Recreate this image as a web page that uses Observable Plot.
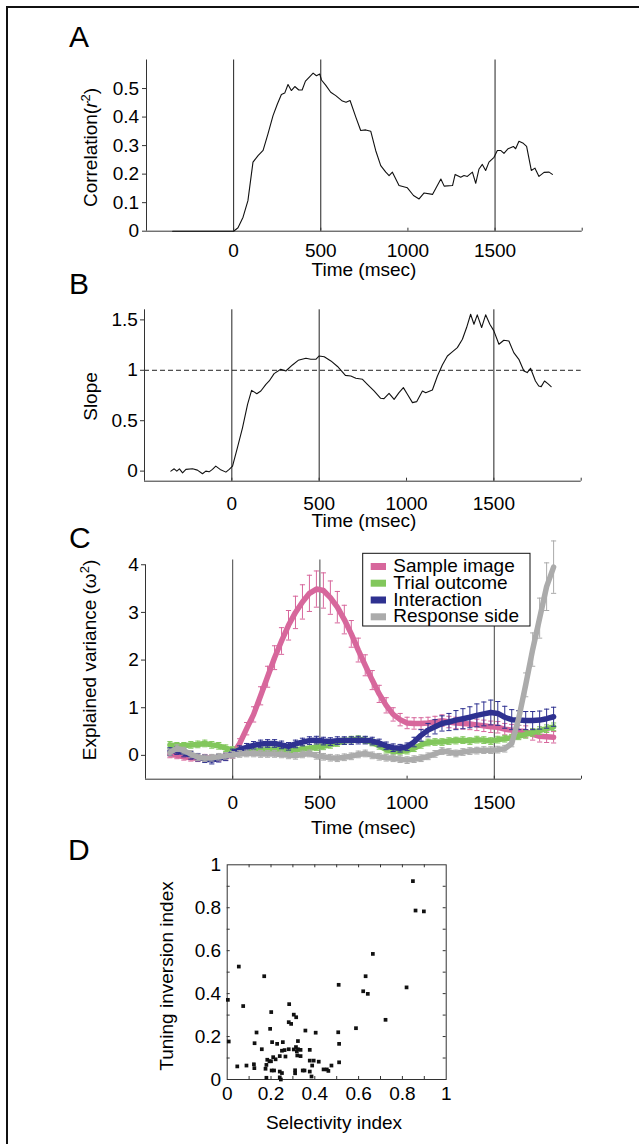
<!DOCTYPE html>
<html><head><meta charset="utf-8">
<script src="https://cdn.jsdelivr.net/npm/d3@7"></script>
<script src="https://cdn.jsdelivr.net/npm/@observablehq/plot@0.6"></script>
<style>
body{margin:0;background:#fff;}
#fig{position:relative;width:639px;height:1144px;overflow:hidden;background:#fff;font-family:"Liberation Sans",Arial,sans-serif;}
#fig svg{position:absolute;left:0;}
</style></head><body><div id="fig"></div>
<script>
// ---------- Panel A: correlation r^2 over time ----------
const timeA = [-350,-250,-150,-50,0,25,54,82,111,140,169,197,226,251,274,293,312,331,351,374,393,412,437,456,475,494,504,529,557,586,624,645,668,701,729,758,787,815,844,873,892,911,949,997,1032,1064,1093,1141,1189,1208,1256,1271,1303,1322,1341,1370,1389,1408,1427,1446,1465,1494,1513,1532,1551,1575,1605,1618,1637,1662,1681,1708,1729,1752,1781,1810,1829];
const corrA = [0,0,0,0,0,0.012,0.049,0.107,0.242,0.265,0.283,0.341,0.405,0.446,0.479,0.484,0.514,0.493,0.507,0.495,0.495,0.526,0.542,0.554,0.545,0.551,0.530,0.511,0.487,0.475,0.456,0.452,0.458,0.400,0.353,0.355,0.350,0.283,0.230,0.207,0.195,0.207,0.160,0.152,0.125,0.113,0.134,0.129,0.183,0.158,0.160,0.199,0.189,0.195,0.192,0.207,0.168,0.218,0.234,0.213,0.242,0.259,0.283,0.283,0.273,0.289,0.297,0.289,0.315,0.308,0.297,0.213,0.221,0.192,0.206,0.207,0.199];

// ---------- Panel B: slope over time ----------
const timeB = [-349,-330,-315,-300,-282,-263,-225,-197,-168,-149,-130,-111,-92,-67,-34,-15,4,32,61,90,113,143,166,195,214,242,280,309,347,380,424,452,481,500,529,567,605,650,681,710,748,776,814,852,871,900,929,957,982,1005,1034,1058,1091,1110,1148,1177,1205,1234,1262,1291,1320,1344,1367,1386,1405,1430,1453,1477,1500,1529,1557,1586,1614,1643,1672,1691,1710,1738,1757,1771,1790,1809,1828];
const slopeB = [0,0.023,0,0.023,-0.017,0.017,0.023,0.01,-0.026,0,-0.007,0.017,0.05,0.017,-0.01,0.017,0.05,0.232,0.43,0.662,0.801,0.768,0.795,0.861,0.894,0.967,1.01,0.993,1.053,1.099,1.119,1.109,1.109,1.142,1.134,1.093,1.038,0.95,0.944,0.921,0.911,0.861,0.795,0.722,0.719,0.772,0.712,0.778,0.828,0.762,0.679,0.689,0.795,0.778,0.805,0.944,1.053,1.142,1.182,1.225,1.308,1.424,1.556,1.457,1.55,1.424,1.55,1.457,1.391,1.258,1.298,1.291,1.175,1.109,0.993,0.977,1.02,0.894,0.844,0.838,0.894,0.868,0.838];

// ---------- Panel C: explained variance (omega^2) ----------
const timeC = [-360,-320,-280,-240,-200,-160,-120,-80,-40,0,40,80,120,160,200,240,280,320,360,400,440,480,520,560,600,640,680,720,760,800,840,880,920,960,1000,1040,1080,1120,1160,1200,1240,1280,1320,1360,1400,1440,1480,1520,1560,1600,1640,1680,1720,1760,1800,1840];
const sampleImage = [0.02,0,-0.03,-0.05,-0.06,-0.05,-0.06,-0.05,-0.03,0.02,0.25,0.56,0.86,1.25,1.65,2.05,2.4,2.73,3.0,3.22,3.4,3.49,3.46,3.31,3.11,2.85,2.55,2.21,1.89,1.58,1.29,1.05,0.86,0.75,0.68,0.67,0.67,0.68,0.7,0.73,0.7,0.68,0.67,0.66,0.64,0.62,0.6,0.59,0.55,0.53,0.51,0.5,0.44,0.4,0.39,0.38];
const sampleImageErr = [0.07,0.07,0.07,0.07,0.07,0.07,0.07,0.07,0.07,0.08,0.1,0.13,0.16,0.19,0.22,0.25,0.28,0.31,0.34,0.36,0.38,0.38,0.37,0.35,0.33,0.3,0.28,0.25,0.22,0.2,0.18,0.16,0.14,0.13,0.12,0.12,0.12,0.12,0.12,0.12,0.12,0.12,0.12,0.12,0.12,0.12,0.12,0.12,0.12,0.12,0.12,0.12,0.12,0.12,0.12,0.12];
const trialOutcome = [0.22,0.2,0.2,0.22,0.23,0.25,0.22,0.2,0.15,0.11,0.09,0.08,0.1,0.11,0.12,0.13,0.12,0.11,0.11,0.14,0.15,0.17,0.19,0.22,0.26,0.3,0.33,0.34,0.32,0.27,0.2,0.12,0.08,0.08,0.1,0.15,0.22,0.27,0.28,0.28,0.3,0.31,0.32,0.3,0.33,0.32,0.3,0.33,0.35,0.37,0.4,0.44,0.48,0.52,0.56,0.6];
const trialOutcomeErr = [0.07,0.07,0.07,0.07,0.07,0.07,0.07,0.07,0.07,0.07,0.07,0.07,0.07,0.07,0.07,0.07,0.07,0.07,0.07,0.07,0.07,0.07,0.07,0.07,0.07,0.07,0.07,0.07,0.07,0.07,0.07,0.07,0.07,0.07,0.07,0.07,0.07,0.07,0.07,0.07,0.07,0.07,0.07,0.07,0.07,0.07,0.07,0.07,0.07,0.07,0.07,0.08,0.08,0.08,0.08,0.08];
const interaction = [0.08,0.1,0.05,0,-0.04,-0.07,-0.1,-0.06,-0.03,0.05,0.12,0.17,0.21,0.24,0.25,0.25,0.22,0.19,0.24,0.28,0.31,0.32,0.3,0.29,0.31,0.31,0.31,0.32,0.32,0.3,0.26,0.2,0.16,0.15,0.18,0.28,0.42,0.53,0.6,0.67,0.7,0.74,0.77,0.8,0.84,0.87,0.9,0.88,0.8,0.75,0.74,0.73,0.73,0.74,0.77,0.81];
const interactionErr = [0.08,0.08,0.08,0.08,0.08,0.08,0.08,0.08,0.08,0.08,0.08,0.08,0.08,0.08,0.08,0.08,0.08,0.08,0.08,0.08,0.08,0.08,0.08,0.08,0.08,0.08,0.08,0.08,0.08,0.08,0.08,0.08,0.08,0.08,0.08,0.1,0.12,0.14,0.15,0.16,0.18,0.2,0.21,0.22,0.24,0.25,0.26,0.25,0.23,0.21,0.2,0.19,0.19,0.19,0.2,0.2];
const responseSide = [0.06,0.15,0.1,0.03,-0.04,-0.06,-0.05,-0.03,-0.01,0.01,0.03,0.04,0.04,0.03,0.03,0.03,0.02,0,-0.01,0.02,0.04,-0.01,-0.03,-0.05,-0.06,-0.04,-0.02,0.02,0.04,0,-0.03,-0.05,-0.06,-0.08,-0.1,-0.08,-0.06,-0.02,0.03,0.09,0.07,0.04,0.07,0.09,0.1,0.11,0.11,0.12,0.14,0.25,0.78,1.48,2.22,2.88,3.54,3.95];
const responseSideErr = [0.07,0.07,0.07,0.07,0.07,0.07,0.07,0.07,0.07,0.07,0.07,0.07,0.07,0.07,0.07,0.07,0.07,0.07,0.07,0.07,0.07,0.07,0.07,0.07,0.07,0.07,0.07,0.07,0.07,0.07,0.07,0.07,0.07,0.07,0.07,0.07,0.07,0.07,0.07,0.07,0.07,0.07,0.07,0.07,0.07,0.07,0.07,0.07,0.07,0.07,0.15,0.25,0.35,0.42,0.5,0.55];
const seriesNames = ["Sample image","Trial outcome","Interaction","Response side"];
const seriesColors = ["#d7679c","#82c75c","#2e3190","#ababab"];

// ---------- Panel D: scatter ----------
const selectivity = [0.848,0.860,0.898,0.665,0.632,0.621,0.642,0.819,0.723,0.588,0.509,0.507,0.511,0.511,0.053,0.169,0.003,0.073,0.007,0.046,0.088,0.122,0.124,0.125,0.134,0.158,0.201,0.196,0.283,0.281,0.292,0.304,0.315,0.357,0.404,0.205,0.228,0.254,0.323,0.183,0.193,0.200,0.221,0.210,0.240,0.266,0.250,0.262,0.281,0.304,0.314,0.323,0.318,0.335,0.377,0.320,0.335,0.377,0.395,0.418,0.179,0.175,0.203,0.214,0.240,0.250,0.310,0.310,0.345,0.353,0.377,0.385,0.388,0.440,0.455,0.462,0.476,0.179,0.240,0.245];
const tuningInversion = [0.924,0.787,0.783,0.585,0.481,0.411,0.399,0.429,0.278,0.239,0.441,0.220,0.166,0.080,0.526,0.481,0.371,0.342,0.177,0.061,0.065,0.071,0.053,0.169,0.219,0.141,0.314,0.236,0.351,0.267,0.259,0.302,0.290,0.228,0.218,0.174,0.166,0.174,0.179,0.092,0.085,0.085,0.094,0.104,0.109,0.107,0.134,0.137,0.141,0.140,0.151,0.141,0.131,0.138,0.138,0.112,0.109,0.088,0.088,0.083,0.068,0.050,0.042,0.042,0.037,0.030,0.043,0.029,0.042,0.042,0.037,0.014,0.065,0.047,0.047,0.040,0.065,0.008,0.010,0.000];

// ---------- ticks ----------
const eventTimes = [0, 500, 1500];
const xTickLabels = [0, 500, 1000, 1500];
const xTickMarks = [0, 500, 1000, 1500, 2000];
const yTicksA = [0, 0.1, 0.2, 0.3, 0.4, 0.5];
const yTicksB = [0, 0.5, 1, 1.5];
const yTicksC = [0, 1, 2, 3, 4];
const dTickLabels = [0, 0.2, 0.4, 0.6, 0.8, 1];
const dTickMarks = [0.1, 0.2, 0.3, 0.4, 0.5, 0.6, 0.7, 0.8, 0.9];

const FONT = "'Liberation Sans', Arial, Helvetica, sans-serif";
const baseStyle = {fontFamily: FONT, fontSize: "19px", background: "transparent", color: "black", overflow: "visible"};
const fig = document.getElementById("fig");
function place(svg, top) { svg.style.top = top + "px"; fig.appendChild(svg); }

function timePanel(cfg) {
  const W = 639;
  const plotW = W - cfg.ml - cfg.mr, plotH = cfg.h - cfg.mt - cfg.mb;
  return Plot.plot({
    width: W, height: cfg.h,
    marginLeft: cfg.ml, marginRight: cfg.mr, marginTop: cfg.mt, marginBottom: cfg.mb,
    x: {domain: [-500, 2000]},
    y: {domain: cfg.yDomain},
    style: baseStyle,
    marks: [
      Plot.ruleX(eventTimes, {stroke: cfg.eventStroke || "#222", strokeWidth: 1}),
      ...(cfg.under || []),
      Plot.ruleY([cfg.yDomain[0]], {stroke: "#333"}),
      Plot.ruleX([-500], {y1: cfg.yDomain[0], y2: cfg.yAxisTop, stroke: "#333"}),
      Plot.tickX(xTickMarks, {x: d => d, insetTop: plotH - 3, stroke: "#333"}),
      Plot.tickY(cfg.yTicks, {y: d => d, insetRight: plotW - 4, dx: -4, stroke: "#333"}),
      Plot.axisX({ticks: xTickLabels, tickSize: 0, tickPadding: cfg.xPad, tickFormat: String, label: null}),
      Plot.axisY({ticks: cfg.yTicks, tickSize: 0, tickPadding: cfg.yPad, tickFormat: String, label: null}),
      ...cfg.marks
    ]
  });
}

// Panel A
const dataA = timeA.map((t, i) => ({t, v: corrA[i]}));
place(timePanel({
  h: 290, mt: 59.5, mb: 59.3, ml: 146, mr: 57.3,
  yDomain: [0, 0.6], yAxisTop: 0.6, yTicks: yTicksA, xPad: 12, yPad: 7.3,
  marks: [Plot.line(dataA, {x: "t", y: "v", stroke: "#111", strokeWidth: 1.1})]
}), 0);

// Panel B
const dataB = timeB.map((t, i) => ({t, v: slopeB[i]}));
place(timePanel({
  h: 250, mt: 19.3, mb: 59.3, ml: 144, mr: 58.3,
  yDomain: [-0.1, 1.6], yAxisTop: 1.6, yTicks: yTicksB, xPad: 15.3, yPad: 6.7,
  under: [Plot.ruleY([1], {stroke: "#222", strokeDasharray: "5,3"})],
  marks: [Plot.line(dataB, {x: "t", y: "v", stroke: "#111", strokeWidth: 1.1})]
}), 290);

// Panel C
const capSymbol = {draw(ctx, size) { const r = Math.sqrt(size / Math.PI); ctx.moveTo(-r, 0); ctx.lineTo(r, 0); }};
const cSeries = [
  [sampleImage, sampleImageErr],
  [trialOutcome, trialOutcomeErr],
  [interaction, interactionErr],
  [responseSide, responseSideErr]
];
const cMarks = [];
cSeries.forEach(([vals, errs], k) => {
  const rows = timeC.map((t, i) => ({t, v: vals[i], e: errs[i]}));
  const col = seriesColors[k];
  cMarks.push(
    Plot.ruleX(rows, {x: "t", y1: d => d.v - d.e, y2: d => d.v + d.e, stroke: col, strokeWidth: 1}),
    Plot.dot(rows, {x: "t", y: d => d.v + d.e, symbol: capSymbol, r: 2.6, stroke: col, fill: "none", strokeWidth: 1}),
    Plot.dot(rows, {x: "t", y: d => d.v - d.e, symbol: capSymbol, r: 2.6, stroke: col, fill: "none", strokeWidth: 1}),
    Plot.line(rows, {x: "t", y: "v", stroke: col, strokeWidth: 5.5, strokeLinejoin: "round"})
  );
});
place(timePanel({
  h: 300, mt: 19.5, mb: 61.3, ml: 145, mr: 58,
  yDomain: [-0.5, 4.1], yAxisTop: 4, yTicks: yTicksC, xPad: 16, yPad: 6.7,
  eventStroke: "#444",
  marks: cMarks
}), 540);

// Panel D
const dataD = selectivity.map((s, i) => ({s, t: tuningInversion[i]}));
const dPlotW = 639 - 226.7 - 193.3, dPlotH = 300 - 24.3 - 61;
place(Plot.plot({
  width: 639, height: 300, marginLeft: 226.7, marginRight: 193.3, marginTop: 24.3, marginBottom: 61,
  x: {domain: [0, 1]}, y: {domain: [0, 1]},
  style: baseStyle,
  marks: [
    Plot.frame({stroke: "#333"}),
    Plot.tickX(dTickMarks, {x: d => d, insetTop: dPlotH - 3, stroke: "#333"}),
    Plot.tickX(dTickMarks, {x: d => d, insetBottom: dPlotH - 3, stroke: "#333"}),
    Plot.tickY(dTickMarks, {y: d => d, insetRight: dPlotW - 3, stroke: "#333"}),
    Plot.tickY(dTickMarks, {y: d => d, insetLeft: dPlotW - 3, stroke: "#333"}),
    Plot.axisX({ticks: dTickLabels, tickSize: 0, tickPadding: 7, tickFormat: String, label: null}),
    Plot.axisY({ticks: dTickLabels, tickSize: 0, tickPadding: 6, tickFormat: String, label: null}),
    Plot.dot(dataD, {x: "s", y: "t", symbol: "square", r: 2.1, fill: "#111", stroke: "none"})
  ]
}), 840);

// ---------- overlay: letters, axis titles, legend, border ----------
const ov = d3.select(fig).append("svg")
  .attr("width", 639).attr("height", 1144)
  .style("top", "0px").style("pointer-events", "none")
  .style("font-family", FONT).style("fill", "black");

// border
ov.append("path").attr("d", "M7,1144 V7 H639").attr("fill", "none").attr("stroke", "#111").attr("stroke-width", 2);

// panel letters
[["A", 69, 47], ["B", 69, 294], ["C", 69, 548], ["D", 68, 860]].forEach(([s, x, y]) =>
  ov.append("text").attr("x", x).attr("y", y).attr("font-size", 30).text(s));

// y axis titles (rotated)
function yTitle(x, y, build) {
  const t = ov.append("text").attr("transform", `translate(${x},${y}) rotate(-90)`)
    .attr("text-anchor", "middle").attr("font-size", 19);
  build(t);
}
yTitle(97, 147.5, t => {
  t.append("tspan").text("Correlation(");
  t.append("tspan").attr("font-style", "italic").text("r");
  t.append("tspan").attr("font-size", 13).attr("dy", -7).text("2");
  t.append("tspan").attr("dy", 7).text(")");
});
yTitle(96.5, 396.5, t => t.text("Slope"));
yTitle(96, 660, t => {
  t.append("tspan").text("Explained variance (ω");
  t.append("tspan").attr("font-size", 13).attr("dy", -7).text("2");
  t.append("tspan").attr("dy", 7).text(")");
});
yTitle(173, 976, t => t.text("Tuning inversion index"));

// x axis titles
[["Time (msec)", 364, 276.3], ["Time (msec)", 364, 526.5], ["Time (msec)", 363.5, 833.6], ["Selectivity index", 334, 1128.6]]
  .forEach(([s, x, y]) => ov.append("text").attr("x", x).attr("y", y).attr("text-anchor", "middle").attr("font-size", 19).text(s));

// legend for panel C
const lg = ov.append("g");
lg.append("rect").attr("x", 362.7).attr("y", 553.3).attr("width", 167.3).attr("height", 72.7)
  .attr("fill", "white").attr("stroke", "#111").attr("stroke-width", 1);
const legendBase = [572, 588.7, 605.5, 622.3];
seriesNames.forEach((name, k) => {
  lg.append("rect").attr("x", 370.7).attr("y", legendBase[k] - 9).attr("width", 15.3).attr("height", 7).attr("fill", seriesColors[k]);
  lg.append("text").attr("x", 393.3).attr("y", legendBase[k]).attr("font-size", 19).text(name);
});
</script></body></html>
